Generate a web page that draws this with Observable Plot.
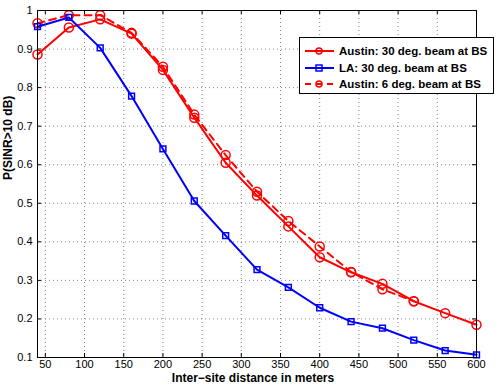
<!DOCTYPE html>
<html><head><meta charset="utf-8">
<script src="https://cdn.jsdelivr.net/npm/d3@7"></script>
<script src="https://cdn.jsdelivr.net/npm/@observablehq/plot@0.6"></script>
<style>
body{margin:0;background:#fff;font-family:"Liberation Sans",Arial,sans-serif;}
#wrap{position:relative;width:498px;height:387px;}
#legend{position:absolute;left:299px;top:37px;width:193px;height:55px;border:1px solid #000;background:#fff;font-weight:bold;font-size:11.5px;}
#legend div{position:absolute;left:4px;height:16px;display:flex;align-items:center;white-space:nowrap;}
#legend svg{margin-right:4px;}
</style></head>
<body><div id="wrap"></div>
<script>
const distances = [40,80,120,160,200,240,280,320,360,400,440,480,520,560,600];
const austin30 = [0.886,0.956,0.977,0.940,0.846,0.722,0.605,0.520,0.440,0.360,0.321,0.291,0.246,0.215,0.185];
const la30 = [0.958,0.982,0.903,0.778,0.641,0.506,0.416,0.328,0.282,0.229,0.193,0.176,0.145,0.118,0.107];
const distances6 = [40,80,120,160,200,240,280,320,360,400,440,480,520];
const austin6 = [0.967,0.988,0.988,0.942,0.854,0.730,0.625,0.530,0.454,0.388,0.322,0.277,0.246];
const xTicks = [50,100,150,200,250,300,350,400,450,500,550,600];
const yTicks = [0.1,0.2,0.3,0.4,0.5,0.6,0.7,0.8,0.9,1];
const seriesNames = ["Austin: 30 deg. beam at BS","LA: 30 deg. beam at BS","Austin: 6 deg. beam at BS"];

const A30 = distances.map((x,i)=>({x, y: austin30[i]}));
const LA = distances.map((x,i)=>({x, y: la30[i]}));
const A6 = distances6.map((x,i)=>({x, y: austin6[i]}));

const red = "#ff0000", blue = "#0000ff";
const chart = Plot.plot({
  width: 498, height: 387,
  marginLeft: 37, marginRight: 22, marginTop: 10, marginBottom: 30,
  style: {fontFamily: '"Liberation Sans", Arial, sans-serif', fontSize: "11px", color: "#000", background: "#fff"},
  x: {domain: [40,600], ticks: xTicks},
  y: {domain: [0.1,1], ticks: yTicks},
  marks: [
    Plot.gridX(xTicks, {stroke: "#777", strokeOpacity: 0.9, strokeDasharray: "1,3", strokeWidth: 1}),
    Plot.gridY(yTicks, {stroke: "#777", strokeOpacity: 0.9, strokeDasharray: "1,3", strokeWidth: 1}),
    Plot.axisX({ticks: xTicks, tickSize: 0, tickPadding: 3, label: null, fontSize: 11}),
    Plot.axisY({ticks: yTicks, tickSize: 0, tickPadding: 5, label: null, fontSize: 11,
      tickFormat: d => d === 1 ? "1" : d3.format(".1f")(d)}),
    Plot.ruleX(xTicks, {x: d => d, y1: 0.1, y2: 0.1104, stroke: "#000"}),
    Plot.ruleX(xTicks, {x: d => d, y1: 1, y2: 0.9896, stroke: "#000"}),
    Plot.ruleY(yTicks, {y: d => d, x1: 40, x2: 45.1, stroke: "#000"}),
    Plot.ruleY(yTicks, {y: d => d, x1: 600, x2: 594.9, stroke: "#000"}),
    Plot.line(A6, {x: "x", y: "y", stroke: red, strokeWidth: 2, strokeDasharray: "7,5"}),
    Plot.dot(A6, {x: "x", y: "y", stroke: red, strokeWidth: 1.5, r: 4.5, fill: "none"}),
    Plot.line(A30, {x: "x", y: "y", stroke: red, strokeWidth: 2}),
    Plot.dot(A30, {x: "x", y: "y", stroke: red, strokeWidth: 1.5, r: 4.5, fill: "none"}),
    Plot.line(LA, {x: "x", y: "y", stroke: blue, strokeWidth: 2}),
    Plot.dot(LA, {x: "x", y: "y", symbol: "square", stroke: blue, strokeWidth: 1.5, r: 3.3, fill: "none"}),
    Plot.frame({stroke: "#000"}),
    Plot.text(["Inter\u2212site distance in meters"], {frameAnchor: "bottom", lineAnchor: "middle", dy: 21, dx: -4, fontWeight: "bold", fontSize: 12}),
    Plot.text(["P(SINR>10 dB)"], {frameAnchor: "left", dx: -29, dy: -4, rotate: -90, fontWeight: "bold", fontSize: 12})
  ]
});
const wrap = document.getElementById("wrap");
wrap.appendChild(chart);

const legend = document.createElement("div");
legend.id = "legend";
const styles = [
  {color: red, dash: null, sym: "circle"},
  {color: blue, dash: null, sym: "square"},
  {color: red, dash: "6,5", sym: "circle"}
];
seriesNames.forEach((name,i)=>{
  const row = document.createElement("div");
  row.style.top = (5 + i*16.5) + "px";
  const s = styles[i];
  const symEl = s.sym === "circle"
    ? `<circle cx="15" cy="8" r="3" fill="none" stroke="${s.color}" stroke-width="1.5"/>`
    : `<rect x="12" y="5" width="6" height="6" fill="none" stroke="${s.color}" stroke-width="1.5"/>`;
  row.innerHTML = `<svg width="31" height="16"><line x1="1" y1="8" x2="30" y2="8" stroke="${s.color}" stroke-width="2" ${s.dash ? `stroke-dasharray="${s.dash}"` : ""}/>${symEl}</svg><span>${name}</span>`;
  legend.appendChild(row);
});
wrap.appendChild(legend);
</script></body></html>
